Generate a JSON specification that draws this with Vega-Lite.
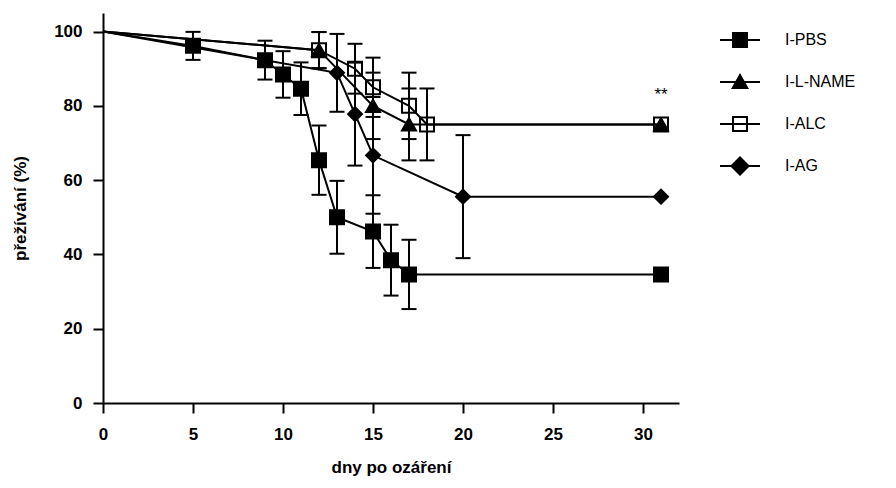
{
  "$schema": "https://vega.github.io/schema/vega-lite/v6.json",
  "autosize": {"type": "none"},
  "padding": {"left": 103, "top": 13, "right": 217, "bottom": 85},
  "width": 576,
  "height": 390,
  "background": "white",
  "config": {
    "font": "Liberation Sans",
    "view": {"stroke": null},
    "axis": {
      "domainColor": "black", "domainWidth": 2, "tickColor": "black", "tickWidth": 2, "tickSize": 10,
      "labelColor": "black", "labelFont": "Liberation Sans", "labelFontWeight": "bold", "labelFontSize": 17,
      "titleColor": "black", "titleFont": "Liberation Sans", "titleFontWeight": "bold", "titleFontSize": 17,
      "grid": false
    },
    "legend": {"labelFont": "Liberation Sans", "labelFontSize": 16, "labelColor": "black"}
  },
  "datasets": {
    "surv": [
      {"g": "I-PBS", "day": 0, "s": 100},
      {"g": "I-PBS", "day": 5, "s": 96.15, "lo": 92.38, "hi": 99.92},
      {"g": "I-PBS", "day": 9, "s": 92.31, "lo": 87.08, "hi": 97.54},
      {"g": "I-PBS", "day": 10, "s": 88.46, "lo": 82.2, "hi": 94.72},
      {"g": "I-PBS", "day": 11, "s": 84.62, "lo": 77.54, "hi": 91.7},
      {"g": "I-PBS", "day": 12, "s": 65.38, "lo": 56.05, "hi": 74.71},
      {"g": "I-PBS", "day": 13, "s": 50, "lo": 40.19, "hi": 59.81},
      {"g": "I-PBS", "day": 15, "s": 46.15, "lo": 36.37, "hi": 55.93},
      {"g": "I-PBS", "day": 16, "s": 38.46, "lo": 28.92, "hi": 48.0},
      {"g": "I-PBS", "day": 17, "s": 34.62, "lo": 25.29, "hi": 43.95},
      {"g": "I-PBS", "day": 31, "s": 34.62},
      {"g": "I-ALC", "day": 0, "s": 100},
      {"g": "I-ALC", "day": 12, "s": 95, "lo": 90.13, "hi": 99.87},
      {"g": "I-ALC", "day": 14, "s": 90, "lo": 83.29, "hi": 96.71},
      {"g": "I-ALC", "day": 15, "s": 85, "lo": 77.02, "hi": 92.98},
      {"g": "I-ALC", "day": 17, "s": 80, "lo": 71.06, "hi": 88.94},
      {"g": "I-ALC", "day": 18, "s": 75, "lo": 65.32, "hi": 84.68},
      {"g": "I-ALC", "day": 31, "s": 75},
      {"g": "I-L-NAME", "day": 0, "s": 100},
      {"g": "I-L-NAME", "day": 12, "s": 95, "lo": 90.13, "hi": 99.87},
      {"g": "I-L-NAME", "day": 15, "s": 80, "lo": 71.06, "hi": 88.94},
      {"g": "I-L-NAME", "day": 17, "s": 75, "lo": 65.32, "hi": 84.68},
      {"g": "I-L-NAME", "day": 31, "s": 75},
      {"g": "I-AG", "day": 0, "s": 100},
      {"g": "I-AG", "day": 13, "s": 88.89, "lo": 78.41, "hi": 99.37},
      {"g": "I-AG", "day": 14, "s": 77.78, "lo": 63.92, "hi": 91.64},
      {"g": "I-AG", "day": 15, "s": 66.67, "lo": 50.96, "hi": 82.38},
      {"g": "I-AG", "day": 20, "s": 55.56, "lo": 39.0, "hi": 72.12},
      {"g": "I-AG", "day": 31, "s": 55.56}
    ]
  },
  "data": {"name": "surv"},
  "encoding": {
    "x": {
      "field": "day", "type": "quantitative",
      "scale": {"domain": [0, 32], "nice": false, "zero": false},
      "axis": {"values": [0, 5, 10, 15, 20, 25, 30], "title": "dny po ozáření", "labelPadding": 13,
               "titleY": 64, "titleBaseline": "middle", "labelFlush": false}
    },
    "y": {
      "field": "s", "type": "quantitative",
      "scale": {"domain": [0, 105], "nice": false},
      "axis": {"values": [0, 20, 40, 60, 80, 100], "title": "přežívání (%)", "labelPadding": 11,
               "titleX": -83, "titleBaseline": "middle", "titleAngle": -90, "labelFlush": false}
    }
  },
  "layer": [
    {
      "transform": [{"filter": "datum.lo != null"}],
      "mark": {"type": "rule", "color": "black", "strokeWidth": 2},
      "encoding": {
        "y": {"field": "lo", "type": "quantitative"},
        "y2": {"field": "hi"}
      }
    },
    {
      "transform": [{"filter": "datum.lo != null"}],
      "mark": {"type": "tick", "orient": "horizontal", "color": "black", "size": 15, "thickness": 2, "opacity": 1},
      "encoding": {"y": {"field": "lo", "type": "quantitative"}}
    },
    {
      "transform": [{"filter": "datum.lo != null"}],
      "mark": {"type": "tick", "orient": "horizontal", "color": "black", "size": 15, "thickness": 2, "opacity": 1},
      "encoding": {"y": {"field": "hi", "type": "quantitative"}}
    },
    {
      "mark": {"type": "line", "color": "black", "strokeWidth": 2},
      "encoding": {"detail": {"field": "g", "type": "nominal"}}
    },
    {
      "transform": [{"filter": "datum.day > 0"}],
      "mark": {"type": "point", "filled": true, "stroke": "black", "strokeWidth": 2, "size": 196, "opacity": 1},
      "encoding": {
        "shape": {"field": "g", "type": "nominal", "scale": {"domain": ["I-PBS", "I-L-NAME", "I-ALC", "I-AG"], "range": ["square", "triangle-up", "square", "diamond"]}, "legend": null},
        "fill": {"field": "g", "type": "nominal", "scale": {"domain": ["I-PBS", "I-L-NAME", "I-ALC", "I-AG"], "range": ["black", "black", "transparent", "black"]}, "legend": null}
      }
    },
    {
      "mark": {"type": "point", "filled": true, "color": "black", "size": 1600, "opacity": 0},
      "encoding": {
        "shape": {
          "field": "g", "type": "nominal",
          "scale": {"domain": ["I-PBS", "I-L-NAME", "I-ALC", "I-AG"],
                    "range": ["M-1,-0.05H1V0.05H-1ZM-0.4,-0.4H0.4V0.4H-0.4Z",
                              "M-1,-0.05H1V0.05H-1ZM0,-0.45L0.45,0.35L-0.45,0.35Z",
                              "M-1,-0.05H1V0.05H-1ZM-0.4,-0.4H0.4V0.4H-0.4ZM-0.3,-0.3V0.3H0.3V-0.3Z",
                              "M-1,-0.05H1V0.05H-1ZM0,-0.5L0.5,0L0,0.5L-0.5,0Z"]},
          "legend": {"title": null, "orient": "none", "legendX": 617, "legendY": 7, "padding": 0,
                     "symbolSize": 1600, "symbolOpacity": 1, "symbolFillColor": "black", "symbolStrokeWidth": 0,
                     "labelOffset": 25, "rowPadding": 14}
        }
      }
    },
    {
      "data": {"values": [{"day": 31, "s": 83, "label": "**"}]},
      "mark": {"type": "text", "fontSize": 17, "color": "black", "baseline": "middle", "align": "center"},
      "encoding": {"text": {"field": "label"}}
    }
  ],
  "resolve": {"scale": {"shape": "independent", "fill": "independent"}, "legend": {"shape": "independent"}}
}
